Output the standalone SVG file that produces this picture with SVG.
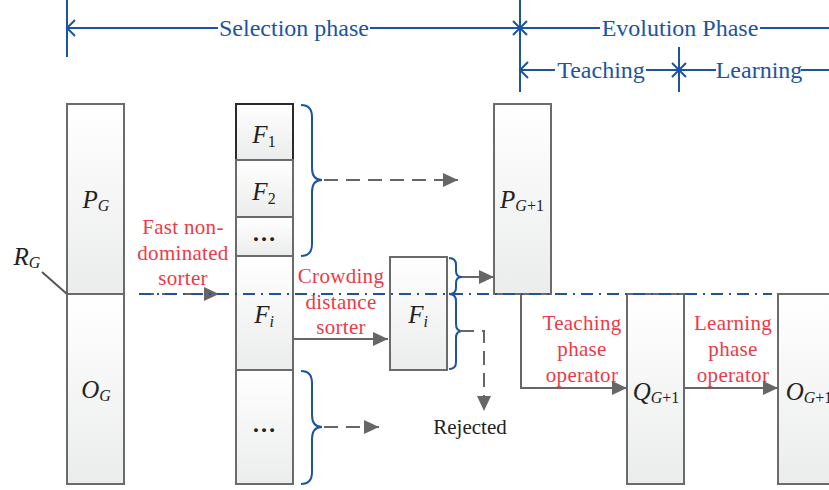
<svg xmlns="http://www.w3.org/2000/svg" width="829" height="490" viewBox="0 0 829 490">
<defs>
<linearGradient id="gf" x1="0" y1="0" x2="0" y2="1">
<stop offset="0" stop-color="#ffffff"/>
<stop offset="1" stop-color="#ebecec"/>
</linearGradient>
<marker id="ah" markerUnits="userSpaceOnUse" markerWidth="16" markerHeight="14" refX="15" refY="7" orient="auto">
<path d="M0,0 L15,7 L0,14 z" fill="#666666"/>
</marker>
</defs>
<style>
.box{fill:url(#gf);stroke:#6b6b6b;stroke-width:2}
.dark{stroke:#2a2a2a}
.dim{stroke:#1a55a0;stroke-width:2;fill:none}
.dimt{font-family:"Liberation Serif",serif;font-size:24px;fill:#1a55a0}
.brace{stroke:#1a55a0;stroke-width:2;fill:none}
.red{font-family:"Liberation Serif",serif;font-size:21px;fill:#ec3a48;text-anchor:middle;letter-spacing:0.3px}
.math{font-family:"Liberation Serif",serif;font-size:25px;font-style:italic;fill:#222;text-anchor:middle}
.sub{font-size:16px}
.up{font-style:normal}
.dots{font-family:"Liberation Serif",serif;font-size:24px;font-weight:bold;fill:#222;text-anchor:middle}
.arr{stroke:#666666;stroke-width:2;fill:none}
.dash{stroke-dasharray:14 8}
.axis{stroke:#1a55a0;stroke-width:2;stroke-dasharray:12 6 2 6;fill:none}
.plain{font-family:"Liberation Serif",serif;font-size:21px;fill:#222;text-anchor:middle}
</style>

<g id="dimensions">
<path class="dim" d="M67,0 V57 M75,20 L67,28 L75,36 M67,28 H218 M370,28 H600 M760,28 H829 M520,0 V92 M513,21 L527,35 M527,21 L513,35"/>
<path class="dim" d="M528,62 L520,70 L528,78 M520,70 H555 M646,70 H716 M801,70 H829 M679,47 V92 M672,63 L686,77 M686,63 L672,77"/>
<text class="dimt" x="294" y="36" text-anchor="middle">Selection phase</text>
<text class="dimt" x="680" y="36" text-anchor="middle">Evolution Phase</text>
<text class="dimt" x="601" y="78" text-anchor="middle">Teaching</text>
<text class="dimt" x="759" y="78" text-anchor="middle">Learning</text>
</g>

<g id="node-PG">
<rect class="box" x="67" y="104" width="57" height="190"/>
<text class="math" x="96" y="208">P<tspan class="sub" dy="3">G</tspan></text>
</g>
<g id="node-OG">
<rect class="box" x="67" y="294" width="57" height="190"/>
<text class="math" x="96" y="398">O<tspan class="sub" dy="3">G</tspan></text>
</g>
<g id="label-RG">
<text class="math" x="27" y="265">R<tspan class="sub" dy="3">G</tspan></text>
<path d="M42,272 L67,294" stroke="#555" stroke-width="2" fill="none"/>
</g>

<g id="node-F1">
<rect class="box dark" x="236" y="104" width="57" height="56"/>
<text class="math" x="264" y="143">F<tspan class="sub up" dy="4">1</tspan></text>
</g>
<g id="node-F2">
<rect class="box" x="236" y="160" width="57" height="57"/>
<text class="math" x="264" y="200">F<tspan class="sub up" dy="4">2</tspan></text>
</g>
<g id="node-dots1">
<rect class="box" x="236" y="217" width="57" height="39"/>
<text class="dots" x="264" y="241">…</text>
</g>
<g id="node-Fi">
<rect class="box" x="236" y="256" width="57" height="114"/>
<text class="math" x="264" y="323">F<tspan class="sub" dy="4">i</tspan></text>
</g>
<g id="node-dots2">
<rect class="box" x="236" y="370" width="57" height="114"/>
<text class="dots" x="264" y="432">…</text>
</g>

<g id="node-Fi-sorted">
<rect class="box" x="390" y="257" width="57" height="113"/>
<text class="math" x="418" y="323">F<tspan class="sub" dy="4">i</tspan></text>
</g>

<g id="node-PG1">
<rect class="box" x="494" y="104" width="57" height="190"/>
<text class="math" x="522" y="208">P<tspan class="sub" dy="3">G<tspan class="up">+1</tspan></tspan></text>
</g>
<g id="node-QG1">
<rect class="box" x="627" y="294" width="57" height="190"/>
<text class="math" x="656" y="400">Q<tspan class="sub" dy="3">G<tspan class="up">+1</tspan></tspan></text>
</g>
<g id="node-OG1">
<rect class="box" x="778" y="294" width="60" height="190"/>
<text class="math" x="809" y="400">O<tspan class="sub" dy="3">G<tspan class="up">+1</tspan></tspan></text>
</g>

<g id="node-rejected">
<text class="plain" x="470" y="434">Rejected</text>
</g>

<g id="labels">
<text class="red" x="183" y="234">Fast non-</text>
<text class="red" x="183" y="260">dominated</text>
<text class="red" x="183" y="285">sorter</text>
<text class="red" x="341" y="283">Crowding</text>
<text class="red" x="341" y="309">distance</text>
<text class="red" x="341" y="334">sorter</text>
<text class="red" x="582" y="330">Teaching</text>
<text class="red" x="582" y="356">phase</text>
<text class="red" x="582" y="382">operator</text>
<text class="red" x="733" y="330">Learning</text>
<text class="red" x="733" y="356">phase</text>
<text class="red" x="733" y="382">operator</text>
</g>

<g id="connectors">
<path class="brace" d="M301,105 Q312,105 312,117 L312,168 Q312,180 322,180 Q312,180 312,192 L312,244 Q312,256 301,256"/>
<path class="brace" d="M301,371 Q312,371 312,383 L312,415 Q312,427 322,427 Q312,427 312,439 L312,472 Q312,484 301,484"/>
<path class="brace" d="M449,258 Q456,258 456,265 L456,271 Q456,277 462,277 Q456,277 456,283 L456,288 Q456,294 449,294"/>
<path class="brace" d="M449,294 Q456,294 456,301 L456,324 Q456,331 462,331 Q456,331 456,338 L456,362 Q456,369 449,369"/>
<path class="arr dash" d="M324,180 H458" marker-end="url(#ah)"/>
<path class="arr dash" d="M324,427 H379" marker-end="url(#ah)"/>
<path class="arr dash" d="M140,294 H219" marker-end="url(#ah)"/>
<path class="arr" d="M293,339 H388" marker-end="url(#ah)"/>
<path class="arr" d="M462,277 H494" marker-end="url(#ah)"/>
<path class="arr dash" d="M460,331 H484 V411" marker-end="url(#ah)"/>
<path class="arr" d="M521,294 V388 H627" marker-end="url(#ah)"/>
<path class="arr" d="M684,388 H778" marker-end="url(#ah)"/>
<path class="axis" d="M139,294 H772"/>
</g>
</svg>
